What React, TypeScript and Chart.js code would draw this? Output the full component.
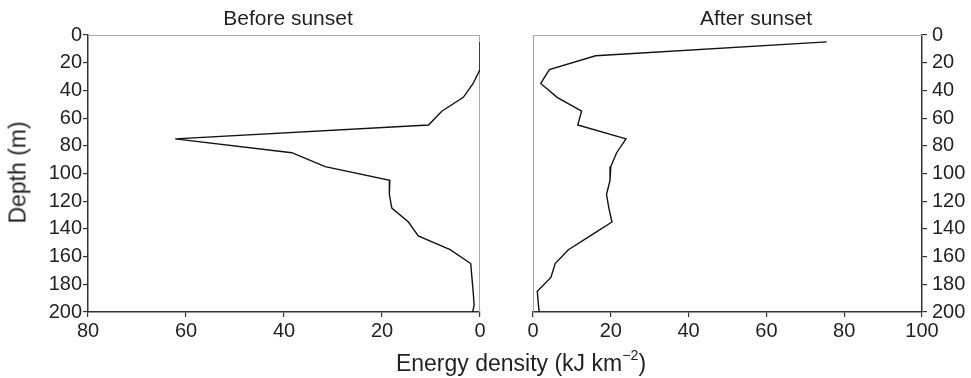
import React, { useEffect, useRef } from "react";
import { Chart, registerables } from "chart.js";

Chart.register(...registerables);

// Depth (m) of each sample
const depthBefore = [5, 15, 25, 35, 45, 55, 65, 75, 85, 95, 105, 115, 125, 135, 145, 155, 165, 175, 185, 195, 200];
const energyBefore = [0, 0, 0, 1.4, 3.4, 7.8, 10.5, 62.2, 38.4, 31.6, 18.4, 18.5, 18.0, 14.6, 12.6, 6.1, 1.9, 1.65, 1.4, 1.2, 1.5];

const depthAfter = [5, 15, 25, 35, 45, 55, 65, 75, 85, 95, 105, 115, 125, 135, 145, 155, 165, 175, 185, 195, 200];
const energyAfter = [75.5, 16.1, 4.2, 2.0, 6.2, 12.5, 11.5, 23.9, 21.5, 20.0, 19.8, 18.9, 19.5, 20.3, 14.7, 9.1, 5.7, 4.6, 1.1, 1.4, 1.6];

const titles = ["Before sunset", "After sunset"];
const xTitle = "Energy density (kJ km";
const yTitle = "Depth (m)";

const FONT = "'Liberation Sans', Arial, Helvetica, sans-serif";
const AXIS = "#333";
const FRAME = "#a8a8a8";
const TEXT = "#231f20";

const framePlugin = {
  id: "frame",
  beforeDatasetsDraw(chart: any, _args: any, opts: any) {
    const { ctx, chartArea } = chart;
    const { left, right, top, bottom } = chartArea;
    ctx.save();
    ctx.strokeStyle = FRAME;
    ctx.lineWidth = 1;
    ctx.beginPath();
    const sides: string[] = opts.sides || [];
    if (sides.includes("top")) { ctx.moveTo(left, top + 0.5); ctx.lineTo(right, top + 0.5); }
    if (sides.includes("right")) { ctx.moveTo(right - 0.5, top); ctx.lineTo(right - 0.5, bottom); }
    if (sides.includes("left")) { ctx.moveTo(left + 0.5, top); ctx.lineTo(left + 0.5, bottom); }
    ctx.stroke();
    ctx.restore();
  },
};

function axisStyle(extra: any) {
  return {
    grid: { drawOnChartArea: false, drawTicks: true, tickLength: 5, color: AXIS, lineWidth: 1.2 },
    border: { display: true, color: AXIS, width: 1.5 },
    ...extra,
  };
}

function Panel(props: {
  depths: number[];
  values: number[];
  xMax: number;
  reverse: boolean;
  yPos: "left" | "right";
  width: number;
  left: number;
  padding: any;
  yWidth: number;
  sides: string[];
}) {
  const ref = useRef<HTMLCanvasElement>(null);
  useEffect(() => {
    const pts = props.depths.map((d, i) => ({ x: props.values[i], y: d }));
    const chart = new Chart(ref.current as HTMLCanvasElement, {
      type: "scatter",
      data: {
        datasets: [
          {
            data: pts,
            showLine: true,
            borderColor: "#111",
            borderWidth: 1.4,
            pointRadius: 0,
            tension: 0,
          },
        ],
      },
      options: {
        animation: false,
        responsive: false,
        devicePixelRatio: 1,
        layout: { padding: props.padding },
        plugins: {
          legend: { display: false },
          tooltip: { enabled: false },
          frame: { sides: props.sides },
        } as any,
        scales: {
          x: axisStyle({
            type: "linear",
            min: 0,
            max: props.xMax,
            reverse: props.reverse,
            ticks: {
              stepSize: 20,
              color: TEXT,
              font: { family: FONT, size: 20 },
              padding: 2,
              maxRotation: 0,
              autoSkip: false,
            },
            afterFit: (s: any) => { s.height = 66; },
          }),
          y: axisStyle({
            type: "linear",
            position: props.yPos,
            min: 0,
            max: 200,
            reverse: true,
            ticks: {
              stepSize: 20,
              color: TEXT,
              font: { family: FONT, size: 20 },
              padding: props.yPos === "left" ? 1 : 5,
              autoSkip: false,
            },
            afterFit: (s: any) => { s.width = props.yWidth; },
          }),
        },
      },
      plugins: [framePlugin],
    });
    return () => chart.destroy();
  }, []);
  return (
    <canvas
      ref={ref}
      width={props.width}
      height={378}
      style={{ position: "absolute", left: props.left, top: 0, width: props.width, height: 378 }}
    />
  );
}

const textBase: React.CSSProperties = {
  position: "absolute",
  fontFamily: FONT,
  color: TEXT,
  lineHeight: 1,
  whiteSpace: "nowrap",
  textAlign: "center",
};

export default function App() {
  return (
    <div style={{ position: "absolute", left: 0, top: 0, width: 971, height: 378, background: "#fff", overflow: "hidden" }}>
      <Panel
        depths={depthBefore}
        values={energyBefore}
        xMax={80}
        reverse={true}
        yPos="left"
        width={500}
        left={0}
        padding={{ top: 35, right: 20, left: 0, bottom: 0 }}
        yWidth={88}
        sides={["top", "right"]}
      />
      <Panel
        depths={depthAfter}
        values={energyAfter}
        xMax={100}
        reverse={false}
        yPos="right"
        width={471}
        left={500}
        padding={{ top: 35, right: 0, left: 33, bottom: 0 }}
        yWidth={49}
        sides={["top", "left"]}
      />
      <div style={{ ...textBase, fontSize: 21, left: 188, width: 200, top: 7.2 }}>{titles[0]}</div>
      <div style={{ ...textBase, fontSize: 21, left: 656, width: 200, top: 7.2 }}>{titles[1]}</div>
      <div style={{ ...textBase, fontSize: 23, left: 321, width: 400, top: 351.5 }}>
        {xTitle}
        <span style={{ fontSize: "0.62em", position: "relative", top: "-0.72em" }}>−2</span>)
      </div>
      <div
        style={{
          ...textBase,
          fontSize: 23,
          width: 200,
          height: 23,
          left: 17.5 - 100,
          top: 172.5 - 11.5,
          transform: "rotate(-90deg)",
          transformOrigin: "50% 50%",
        }}
      >
        {yTitle}
      </div>
    </div>
  );
}
